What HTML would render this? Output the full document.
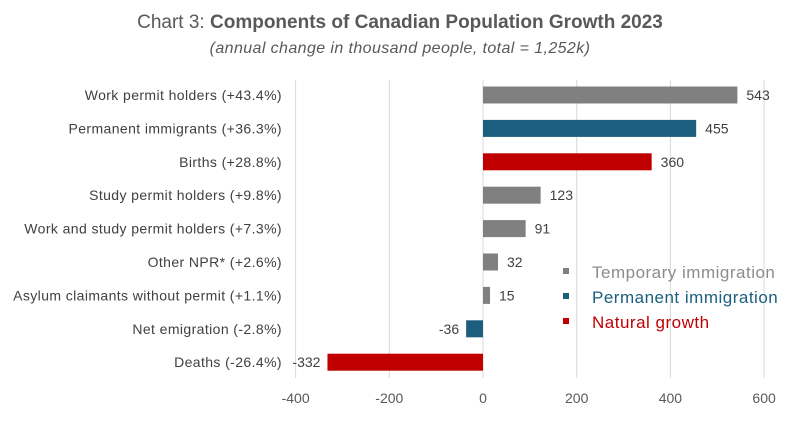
<!DOCTYPE html>
<html><head><meta charset="utf-8"><style>
body{margin:0;background:#fff;width:802px;height:421px;overflow:hidden;font-family:"Liberation Sans",sans-serif}
</style></head><body>
<svg id="chart" width="802" height="421" xmlns="http://www.w3.org/2000/svg" font-family="Liberation Sans, sans-serif">
<text x="400" y="28" text-anchor="middle" font-size="19" fill="#595959">Chart 3: <tspan font-weight="bold">Components of Canadian Population Growth 2023</tspan></text>
<text x="400" y="53" text-anchor="middle" font-size="16" letter-spacing="0.4" font-style="italic" fill="#595959">(annual change in thousand people, total = 1,252k)</text>
<g id="grid"></g><g id="bars"></g><g id="labels"></g>
<g font-size="17" letter-spacing="0.5">
<rect x="563" y="268" width="6" height="6" fill="#808080"/>
<text x="592" y="278" fill="#8c8c8c">Temporary immigration</text>
<rect x="563" y="293" width="6" height="6" fill="#1b5e7e"/>
<text x="592" y="303" fill="#1b5e7e">Permanent immigration</text>
<rect x="563" y="318" width="6" height="6" fill="#c00000"/>
<text x="592" y="328" fill="#c00000">Natural growth</text>
</g>
</svg>
<script>
const categories=["Work permit holders (+43.4%)","Permanent immigrants (+36.3%)","Births (+28.8%)","Study permit holders (+9.8%)","Work and study permit holders (+7.3%)","Other NPR* (+2.6%)","Asylum claimants without permit (+1.1%)","Net emigration (-2.8%)","Deaths (-26.4%)"];
const values=[543,455,360,123,91,32,15,-36,-332];
const groups=["t","p","n","t","t","t","t","p","n"];
const ticks=[-400,-200,0,200,400,600];
const colors={t:"#808080",p:"#1b5e7e",n:"#c00000"};
const NS="http://www.w3.org/2000/svg";
const x=v=>483+v*0.4685;
const y=i=>95+i*33.4;
function mk(t,a,p){const e=document.createElementNS(NS,t);for(const k in a)e.setAttribute(k,a[k]);p.appendChild(e);return e;}
const grid=document.getElementById('grid'),bars=document.getElementById('bars'),labels=document.getElementById('labels');
ticks.forEach(t=>{
 const l=mk('line',{x1:x(t),x2:x(t),y1:80,y2:378,stroke:'#d9d9d9','stroke-width':1},grid);
 
 
 const tx=mk('text',{x:x(t),y:403,'text-anchor':'middle','font-size':14,fill:'#595959'},grid);
 tx.textContent=t;
 
 
});
categories.forEach((c,i)=>{
 const v=values[i];
 const r=mk('rect',{x:Math.min(x(0),x(v)),y:y(i)-8.5,width:Math.abs(x(v)-x(0)),height:17,fill:colors[groups[i]]},bars);
 
 
 const cl=mk('text',{x:282,y:y(i)+5,'text-anchor':'end','font-size':14,'letter-spacing':0.4,fill:'#404040'},labels);
 cl.textContent=c;
 
 
 const vl=mk('text',{x:v>=0?x(v)+9:x(v)-7,y:y(i)+5,'text-anchor':v>=0?'start':'end','font-size':14,fill:'#404040'},labels);
 vl.textContent=v;
 
 
});
</script>
</body></html>
